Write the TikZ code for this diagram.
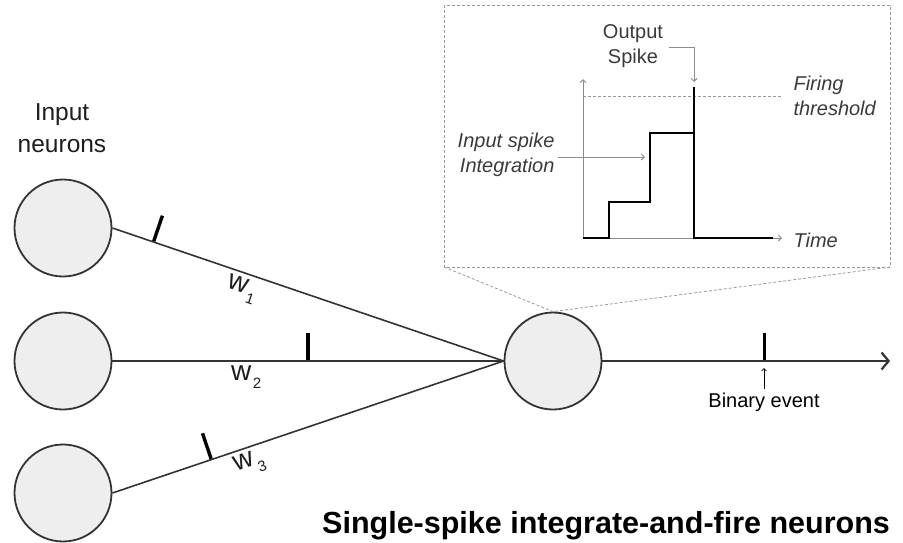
\documentclass[tikz,border=0pt]{standalone}
\usepackage{fontspec}
\setmainfont{Liberation Sans}
\usetikzlibrary{arrows.meta}
\definecolor{ink}{HTML}{333333}
\definecolor{cellfill}{HTML}{EEEEEE}
\definecolor{axisgray}{HTML}{8C8C8C}
\definecolor{guide}{HTML}{9A9A9A}
\definecolor{note}{HTML}{3A3A3A}
\definecolor{label}{HTML}{1E1E1E}
\newcommand{\wsub}[1]{\kern1.5pt\raisebox{-8pt}{\fontsize{15}{15}\selectfont #1}}

\begin{document}
\begin{tikzpicture}[x=1pt,y=-1pt,
  neuron/.style={circle, draw=ink, line width=1.8pt, fill=cellfill,
    minimum size=97pt, inner sep=0pt},
  synapse/.style={draw=ink, line width=1.6pt},
  spikemark/.style={fill=black, inner sep=0pt, minimum width=3.4pt,
    minimum height=27pt, sloped, anchor=south},
  weight/.style={sloped, below=3pt, inner sep=1pt, text=label,
    font=\fontsize{28}{28}\selectfont},
  insettext/.style={text=note, font=\fontsize{20}{25}\selectfont},
  slanted/.style={insettext, font=\fontsize{20}{25}\selectfont\itshape},
  axis/.style={draw=axisgray, line width=0.9pt,
    -{Straight Barb[length=3pt,width=6pt]}},
  callout/.style={draw=axisgray, line width=0.9pt,
    -{Straight Barb[length=3pt,width=6pt]}},
  zoomline/.style={draw=guide, line width=0.8pt, dash pattern=on 3pt off 2pt},
  potential/.style={draw=black, line width=2pt},
]
\useasboundingbox (0,0) rectangle (903,542);

% neurons
\node[neuron] (in1) at (63,228) {};
\node[neuron] (in2) at (63,361) {};
\node[neuron] (in3) at (63,493) {};
\node[neuron] (out) at (553,361) {};

\node[align=center, text=label, font=\fontsize{24.5}{32}\selectfont]
  (inlabel) at (62,128) {Input\\neurons};

% synapses with incoming spikes and weights
\draw[synapse] (in1.east) -- (out.west)
  node[spikemark, pos=0.105] (sp1) {}
  node[weight, pos=0.344] (w1) {w\wsub{1}};
\draw[synapse] (in2.east) -- (out.west)
  node[spikemark, pos=0.5] (sp2) {}
  node[weight, pos=0.342] (w2) {w\wsub{2}};
\draw[synapse] (in3.east) -- (out.west)
  node[spikemark, pos=0.253] (sp3) {}
  node[weight, pos=0.338] (w3) {w\wsub{3}};

% output axon
\coordinate (axonend) at (890,361);
\draw[synapse, -{Straight Barb[length=7pt,width=17pt,line width=2.2pt]}]
  (out.east) -- (axonend)
  node[spikemark, pos=0.564] (spout) {};
\node[anchor=base, text=black, font=\fontsize{20}{25}\selectfont]
  (event) at (764,407) {Binary event};
\coordinate (eventtip) at (764,368);
\draw[black, line width=0.7pt, -{Straight Barb[length=2.5pt,width=5pt]}]
  (event.north) -- (eventtip);

% magnified view of the membrane potential
\coordinate (boxnw) at (444,5);
\coordinate (boxsw) at (444,267);
\coordinate (boxse) at (890,267);
\draw[zoomline] (boxnw) rectangle (boxse);
\draw[zoomline] (boxsw) -- (out.north) -- (boxse);

\coordinate (origin) at (583,238);
\coordinate (ytop) at (583,79);
\coordinate (xend) at (782,238);
\draw[axis] (origin) -- (ytop);
\draw[axis] (origin) -- (xend);
\coordinate (thl) at (583,96);
\coordinate (thr) at (783,96);
\draw[zoomline] (thl) -- (thr);

\draw[potential] (origin) -- (609,238) -- (609,202) -- (650,202) -- (650,133)
  -- (694,133) -- (694,87) -- (694,238) -- (773,238);

\node[slanted, anchor=west] (time) at (790,240) {Time};
\node[slanted, anchor=west, align=left] (firing) at (790,96) {Firing\\threshold};
\node[insettext, align=center] (outspike) at (633,46) {Output\\Spike};
\node[slanted, anchor=east, align=right] (integr) at (558,155) {Input spike\\Integration};

\coordinate (spiketip) at (694,82);
\draw[callout] ([xshift=2pt]outspike.east |- 0,47) -| (spiketip);
\coordinate (steptip) at (645,157);
\draw[callout] (integr.east |- 0,157) -- (steptip);

% title
\node[anchor=base west, inner sep=0pt, text=black,
  font=\fontsize{30.5}{30.5}\selectfont\bfseries]
  (title) at (322,533) {Single-spike integrate-and-fire neurons};
\end{tikzpicture}
\end{document}
